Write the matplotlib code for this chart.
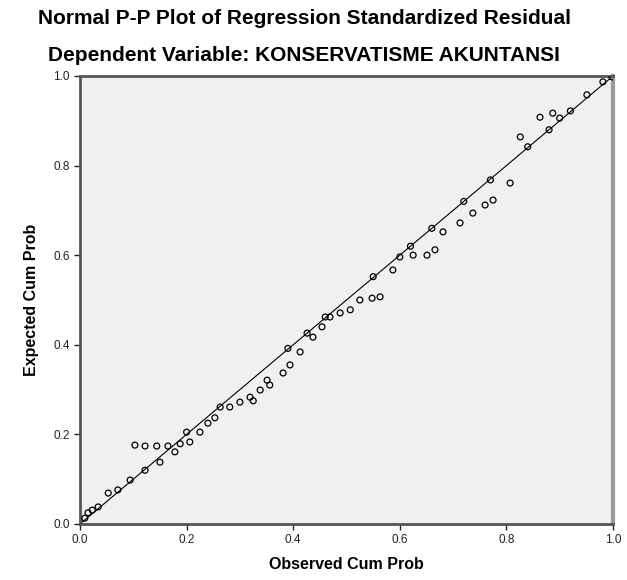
import matplotlib
matplotlib.use('Agg')
import matplotlib.pyplot as plt

# observed vs expected cumulative probabilities
obs_prob = [0.009, 0.015, 0.023, 0.034, 0.053, 0.071, 0.094, 0.122, 0.150, 0.178,
            0.103, 0.122, 0.144, 0.165, 0.188, 0.206, 0.200, 0.225, 0.240, 0.253,
            0.263, 0.281, 0.300, 0.319, 0.325, 0.338, 0.351, 0.356, 0.381, 0.394,
            0.390, 0.413, 0.426, 0.437, 0.454, 0.460, 0.469, 0.488, 0.507, 0.525,
            0.548, 0.550, 0.563, 0.587, 0.600, 0.620, 0.625, 0.651, 0.660, 0.666,
            0.681, 0.713, 0.720, 0.737, 0.760, 0.770, 0.775, 0.807, 0.826, 0.840,
            0.863, 0.880, 0.887, 0.900, 0.920, 0.951, 0.981, 0.998]
exp_prob = [0.013, 0.025, 0.031, 0.038, 0.069, 0.076, 0.098, 0.120, 0.138, 0.161,
            0.176, 0.174, 0.174, 0.174, 0.179, 0.183, 0.205, 0.205, 0.225, 0.237,
            0.261, 0.261, 0.272, 0.283, 0.275, 0.299, 0.321, 0.310, 0.337, 0.355,
            0.392, 0.384, 0.426, 0.417, 0.440, 0.462, 0.462, 0.471, 0.478, 0.500,
            0.504, 0.552, 0.507, 0.567, 0.596, 0.620, 0.600, 0.600, 0.660, 0.612,
            0.652, 0.672, 0.720, 0.694, 0.712, 0.768, 0.723, 0.761, 0.864, 0.842,
            0.908, 0.880, 0.917, 0.906, 0.922, 0.958, 0.987, 0.998]
ticks = [0.0, 0.2, 0.4, 0.6, 0.8, 1.0]

plt.rcParams['font.family'] = ['Liberation Sans', 'DejaVu Sans']

fig = plt.figure(figsize=(6.27, 5.8), dpi=100)
ax = fig.add_axes([0.1276, 0.0966, 0.8501, 0.7724])
ax.set_facecolor('#f0f0f0')

ax.plot([0, 1], [0, 1], color='black', lw=0.8, zorder=2)
ax.scatter(obs_prob, exp_prob, s=18, facecolors='none', edgecolors='black',
           linewidths=0.9, zorder=3)

ax.set_xlim(0, 1)
ax.set_ylim(0, 1)
ax.set_xticks(ticks)
ax.set_yticks(ticks)
ax.set_xticklabels([f'{t:.1f}' for t in ticks])
ax.set_yticklabels([f'{t:.1f}' for t in ticks])
ax.tick_params(direction='out', length=4, width=1, labelsize=8.5, colors='#222222')

for side in ['left', 'top', 'bottom']:
    ax.spines[side].set_color('#555555')
    ax.spines[side].set_linewidth(2)
ax.spines['right'].set_color('#999999')
ax.spines['right'].set_linewidth(3)

ax.set_xlabel('Observed Cum Prob', fontsize=11.5, fontweight='bold', labelpad=8)
ax.set_ylabel('Expected Cum Prob', fontsize=11.5, fontweight='bold', labelpad=10)

fig.text(0.485, 0.968, 'Normal P-P Plot of Regression Standardized Residual',
         ha='center', va='center', fontsize=15, fontweight='bold')
fig.text(0.485, 0.905, 'Dependent Variable: KONSERVATISME AKUNTANSI',
         ha='center', va='center', fontsize=15, fontweight='bold')

fig.savefig('out.png', dpi=100)
